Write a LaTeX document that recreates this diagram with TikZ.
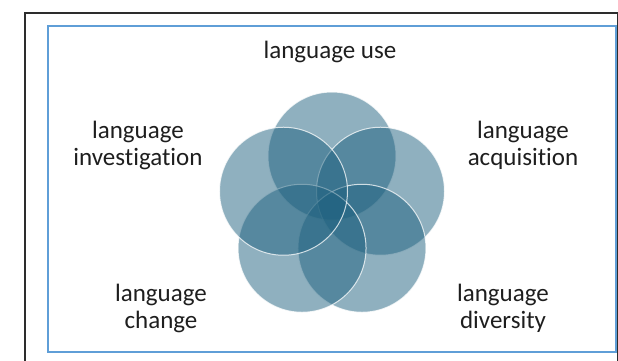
\documentclass[tikz,border=0pt]{standalone}
\usepackage{fontspec}
\setmainfont{Carlito}[Ligatures=NoCommon]
\usetikzlibrary{calc}
\definecolor{petalcol}{RGB}{31,97,127}
\definecolor{framegray}{RGB}{45,45,45}
\definecolor{boxblue}{RGB}{95,158,215}
\definecolor{textgray}{RGB}{30,30,30}

\begin{document}
\begin{tikzpicture}[x=1pt,y=1pt,
	petal/.style={circle, minimum size=128pt, inner sep=0pt, fill=petalcol, fill opacity=0.5, draw=white, draw opacity=0.75, line width=1pt},
	langtext/.style={align=center, anchor=base, inner sep=0pt, text=textgray, font=\fontsize{25}{27}\selectfont}]
			%%%%% START %%%%%
			\useasboundingbox (0,0) rectangle (618,360);
			\clip (0,0) rectangle (618,360);
			
			\draw[framegray, line width=1.4pt] (25,-5) rectangle (617.8,347);
			\draw[boxblue, line width=1.5pt] (48,8) rectangle (616,334);
			
			% five overlapping circles
			\coordinate (mid) at (332,153);
			\foreach \ang/\nm in {90/use,18/acq,306/div,234/chg,162/inv}
				\node[petal] (\nm) at ($(mid)+(\ang:51)$) {};
			
			% labels (base = last line)
			\node[langtext] (usetext) at (330,302) {language use};
			\node[langtext] (invtext) at (138,195) {language\\investigation};
			\node[langtext] (acqtext) at (523,195) {language\\acquisition};
			\node[langtext] (chgtext) at (161,32) {language\\change};
			\node[langtext] (divtext) at (503,32) {language\\diversity};
			%%%%% END %%%%%
\end{tikzpicture}
\end{document}
